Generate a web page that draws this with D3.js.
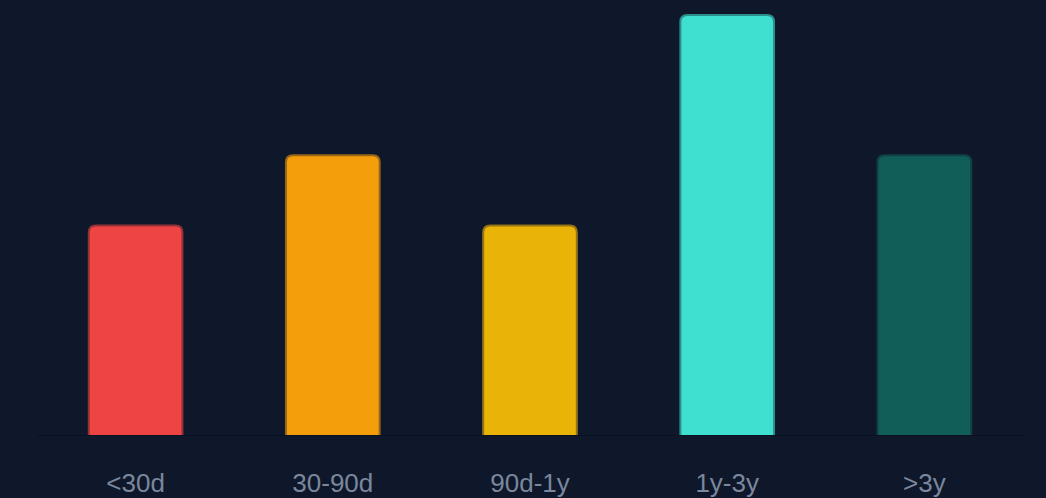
<!DOCTYPE html>
<html>
<head>
<meta charset="utf-8">
<script src="https://cdn.jsdelivr.net/npm/d3@7"></script>
<style>
  html, body { margin: 0; padding: 0; background: #0f172a; overflow: hidden; }
  svg { display: block; }
</style>
</head>
<body>
<div id="chart"></div>
<script>
// age buckets
var categories = ['<30d', '30-90d', '90d-1y', '1y-3y', '>3y'];
var values = [3, 4, 3, 6, 4];
var colors = ['#ef4444', '#f59e0b', '#eab308', '#40e0d0', '#115e59'];

var width = 1046, height = 498;
var plotLeft = 37, plotRight = 1023, plotTop = 14, plotBase = 435;
var radius = 8, border = 2;

var svg = d3.select('#chart').append('svg')
    .attr('width', width)
    .attr('height', height);

svg.append('rect')
    .attr('width', width)
    .attr('height', height)
    .attr('fill', '#0f172a');

var x = d3.scaleBand()
    .domain(categories)
    .range([plotLeft, plotRight])
    .paddingInner(0.515)
    .paddingOuter(0.2575);

var y = d3.scaleLinear()
    .domain([0, 6])
    .range([plotBase, plotTop]);

// rounded top, flat bottom
function barPath(x0, y0, w, h, r) {
    r = Math.min(r, w / 2, h);
    return 'M' + x0 + ',' + (y0 + h) +
        'V' + (y0 + r) +
        'Q' + x0 + ',' + y0 + ' ' + (x0 + r) + ',' + y0 +
        'H' + (x0 + w - r) +
        'Q' + (x0 + w) + ',' + y0 + ' ' + (x0 + w) + ',' + (y0 + r) +
        'V' + (y0 + h) + 'Z';
}

// baseline
svg.append('line')
    .attr('x1', plotLeft).attr('x2', plotRight)
    .attr('y1', plotBase + 0.5).attr('y2', plotBase + 0.5)
    .attr('stroke', '#0a1120')
    .attr('stroke-width', 1);

var bars = svg.append('g').selectAll('g')
    .data(values)
    .enter().append('g');

// outer shape = border colour
bars.append('path')
    .attr('fill', function(d, i) { return colors[i]; })
    .attr('fill-opacity', 0.6)
    .attr('d', function(d, i) {
        return barPath(x(categories[i]), y(d), x.bandwidth(), plotBase - y(d), radius);
    });

// inner fill
bars.append('path')
    .attr('fill', function(d, i) { return colors[i]; })
    .attr('d', function(d, i) {
        return barPath(x(categories[i]) + border, y(d) + border,
            x.bandwidth() - 2 * border, plotBase - y(d) - border, radius - border);
    });

svg.append('g').selectAll('text')
    .data(categories)
    .enter().append('text')
    .attr('x', function(d) { return x(d) + x.bandwidth() / 2; })
    .attr('y', 492)
    .attr('text-anchor', 'middle')
    .attr('fill', '#7a879c')
    .style('font-family', 'Liberation Sans, Arial, sans-serif')
    .style('font-size', '26px')
    .text(function(d) { return d; });
</script>
</body>
</html>
